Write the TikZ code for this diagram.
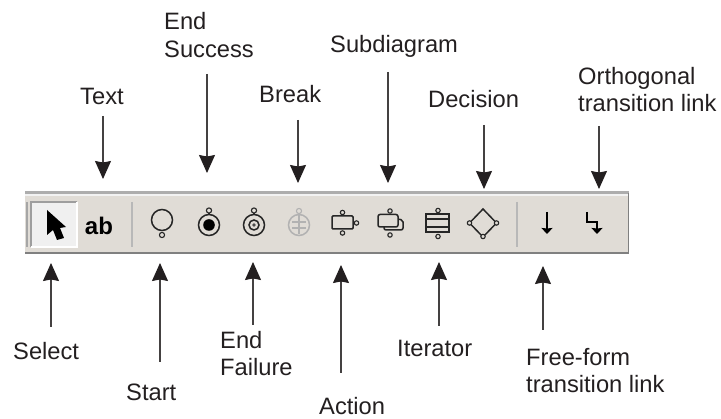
\documentclass[tikz,border=0pt]{standalone}
\usepackage{fontspec}
\setmainfont{Liberation Sans}
\usetikzlibrary{arrows.meta}
\definecolor{bar}{HTML}{E0DCD6}
\definecolor{ink}{HTML}{231F20}
\tikzset{
 lbl/.style={font=\fontsize{23.7}{27}\selectfont,text=ink,inner sep=0pt,anchor=base west},
 callout/.style={line width=1.1pt,draw=ink!85,-{Stealth[length=18pt,width=16pt,inset=1.5pt,color=ink]}},
 ico/.style={line width=1.5pt,draw=black!85},
 dot/.style={line width=1.1pt,draw=black!85,fill=bar},
 sep/.style={line width=1.6pt,draw=black!28},
}
\begin{document}
\begin{tikzpicture}[x=1pt,y=-1pt]
\useasboundingbox (0,0) rectangle (721,419);
% toolbar
\fill[bar] (25,191) rectangle (629,254);
\fill[black!32] (25,191) rectangle (629,194);
\fill[white!95!black] (25,194) rectangle (629,196);
\fill[black!50] (25,252.5) rectangle (629,254.5);
\fill[black!50] (627.5,193) rectangle (629,254.5);
\draw[line width=1.2pt,draw=black!35] (27,202) -- (27,247);
% select button
\fill[black!6] (31,202) rectangle (77,247);
\draw[line width=1.6pt,draw=black!38] (31,247) -- (31,202) -- (77,202);
\draw[line width=1.2pt,draw=white] (77,202) -- (77,247) -- (31,247);
\fill[black] (47,210) -- (47,235) -- (53,230) -- (57,240) -- (64,238) -- (60,228) -- (66,227) -- cycle;
\node[inner sep=0pt,anchor=base,font=\fontsize{24}{24}\selectfont\bfseries] (ab) at (99,235) {ab};
\draw[sep] (132,202) -- (132,247);
\draw[sep] (517,202) -- (517,247);
% start
\draw[ico] (162,220) circle (10.5);
\draw[dot] (162,235) circle (2.6);
% end success
\draw[ico] (209,213) -- (209,215);
\draw[dot] (209,210.5) circle (2.6);
\draw[ico] (209,225) circle (10.5);
\fill[black] (209,225) circle (5.8);
% end failure
\draw[ico] (254,213) -- (254,215);
\draw[dot] (254,210.5) circle (2.6);
\draw[ico] (254,225) circle (10.5);
\draw[ico] (254,225) circle (5);
\fill[black!70] (254,225) circle (1.8);
% break
\draw[line width=1.5pt,draw=black!30] (299,225) circle (10.5);
\draw[line width=1.1pt,draw=black!30,fill=bar] (299,211) circle (2.6);
\draw[line width=1.2pt,draw=black!30] (292,222) -- (306,222) (292,228) -- (306,228) (299,214) -- (299,234);
% action
\draw[ico,rounded corners=1pt] (332,216) rectangle (353,229);
\draw[dot] (342.5,212.5) circle (2.2);
\draw[dot] (342.5,233) circle (2.2);
\draw[dot] (356.5,223) circle (2.2);
% subdiagram
\draw[ico,rounded corners=2pt] (392,218) -- (403,220) -- (403,230) -- (384,230) -- (384,227);
\draw[ico,fill=bar,rounded corners=2pt] (378,214.5) rectangle (398,227);
\draw[dot] (390,211) circle (2.2);
\draw[dot] (390,235) circle (2.2);
% iterator
\draw[ico] (426,214) rectangle (449,232);
\draw[ico] (426,219) -- (449,219) (426,227) -- (449,227);
\draw[dot] (438,210.5) circle (2.2);
\draw[dot] (438,236.5) circle (2.2);
% decision
\draw[ico] (483,209) -- (496.5,223) -- (483,237) -- (469.5,223) -- cycle;
\draw[dot] (469.5,223) circle (2.2);
\draw[dot] (496.5,223) circle (2.2);
\draw[dot] (483,236.5) circle (2.2);
% links
\coordinate (fa) at (547,212); \coordinate (fb) at (547,234);
\draw[line width=1.5pt,-{Stealth[length=6pt,width=11pt,inset=0.5pt]}] (fa) -- (fb);
\coordinate (oa) at (587,212); \coordinate (ob) at (597,234);
\draw[line width=1.5pt,-{Stealth[length=6pt,width=11pt,inset=0.5pt]}] (oa) -- (587,222) -- (597,222) -- (ob);
% labels
\node[lbl] (text) at (80,105) {Text};
\node[lbl] (end1) at (164,30) {End};
\node[lbl] (endsucc) at (164,58) {Success};
\node[lbl] (break) at (259,103) {Break};
\node[lbl] (subd) at (330,53) {Subdiagram};
\node[lbl] (dec) at (428,107.5) {Decision};
\node[lbl] (orth) at (578,85) {Orthogonal};
\node[lbl] (orth2) at (578,112) {transition link};
\node[lbl] (select) at (13,360) {Select};
\node[lbl] (start) at (126,401) {Start};
\node[lbl] (end2) at (220,349) {End};
\node[lbl] (endfail) at (220,376) {Failure};
\node[lbl] (action) at (319,415) {Action};
\node[lbl] (iter) at (397,357) {Iterator};
\node[lbl] (free) at (526,366) {Free-form};
\node[lbl] (free2) at (526,393) {transition link};
% callouts
\coordinate (t1a) at (103,116); \coordinate (t1) at (103,179); \draw[callout] (t1a) -- (t1);
\coordinate (t2a) at (207,74); \coordinate (t2) at (207,173); \draw[callout] (t2a) -- (t2);
\coordinate (t3a) at (298,120); \coordinate (t3) at (298,183); \draw[callout] (t3a) -- (t3);
\coordinate (t4a) at (388,72); \coordinate (t4) at (388,183); \draw[callout] (t4a) -- (t4);
\coordinate (t5a) at (484,125); \coordinate (t5) at (484,189); \draw[callout] (t5a) -- (t5);
\coordinate (t6a) at (599,126); \coordinate (t6) at (599,189); \draw[callout] (t6a) -- (t6);
\coordinate (b1a) at (51,327); \coordinate (b1) at (51,263); \draw[callout] (b1a) -- (b1);
\coordinate (b2a) at (160,362); \coordinate (b2) at (160,263); \draw[callout] (b2a) -- (b2);
\coordinate (b3a) at (253,325); \coordinate (b3) at (253,262); \draw[callout] (b3a) -- (b3);
\coordinate (b4a) at (341,373); \coordinate (b4) at (341,265); \draw[callout] (b4a) -- (b4);
\coordinate (b5a) at (439,326); \coordinate (b5) at (439,262); \draw[callout] (b5a) -- (b5);
\coordinate (b6a) at (543,330); \coordinate (b6) at (543,266); \draw[callout] (b6a) -- (b6);
\end{tikzpicture}
\end{document}
